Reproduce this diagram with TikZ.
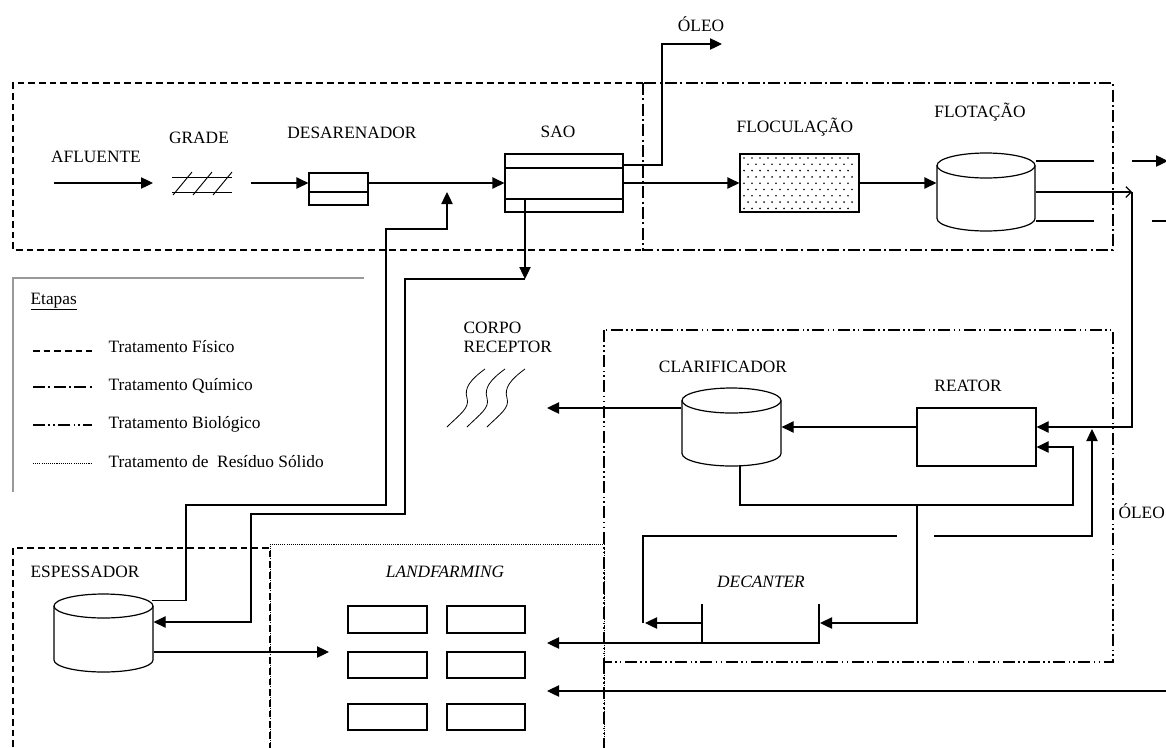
\documentclass[tikz,border=0pt]{standalone}
\usepackage{fontspec}
\setmainfont{Liberation Serif}
\usetikzlibrary{arrows.meta,fit,calc}
\newcommand{\cylshape}[5]{% x1 x2 ytop ybot ry
 \draw ({(#1+#2)/2},{#3+#5}) ellipse [x radius={(#2-#1)/2}, y radius=#5];
 \draw (#1,{#3+#5}) -- (#1,{#4-#5}) .. controls (#1,{#4-#5+0.5523*#5}) and ({(#1+#2)/2-0.5523*(#2-#1)/2},#4) .. ({(#1+#2)/2},#4) .. controls ({(#1+#2)/2+0.5523*(#2-#1)/2},#4) and (#2,{#4-#5+0.5523*#5}) .. (#2,{#4-#5}) -- (#2,{#3+#5});
}
\begin{document}
\begin{tikzpicture}[x=0.75pt,y=-0.75pt, line width=0.9pt,
  font=\fontsize{13}{15}\selectfont,
  arr/.style={-{Triangle[length=9pt,width=8.5pt]}},
  box/.style={draw, inner sep=0pt},
  area/.style={inner sep=0pt},
  lbl/.style={anchor=base, inner sep=0pt},
  phys/.style={line width=0.8pt, dash pattern=on 5pt off 3pt},
  chem/.style={line width=0.8pt, dash pattern=on 9pt off 2.5pt on 1.5pt off 2.5pt},
  bio/.style={line width=0.8pt, dash pattern=on 9pt off 2.5pt on 1.2pt off 2.5pt on 1.2pt off 2.5pt},
  solid waste/.style={line width=0.7pt, dash pattern=on 0.8pt off 0.8pt},
  legline/.style={draw=black!40, line width=1.1pt}]
\useasboundingbox (0,0) rectangle (1166,747);
\clip (0,0) rectangle (1166,747);

% ---------- stage boxes ----------
\draw[phys] (643,83) -- (13,83) -- (13,250) -- (643,250);
\draw[chem] (643,83) rectangle (1113,250);
\draw[bio] (604,330) rectangle (1113,662);
\draw[bio] (604,662) -- (604,760);
\draw[phys] (270,760) -- (270,548) -- (13,548) -- (13,760);
\draw[solid waste] (270,760) -- (270,544) -- (604,544) -- (604,760);

% ---------- legend ----------
\draw[legline] (364,278) -- (13,278) -- (13,492);
\node[anchor=base west, inner sep=0pt] (etapas) at (30,304) {\underline{Etapas}};
\draw[phys] (33,351) -- (92,351);
\draw[chem] (33,387) -- (92,387);
\draw[bio] (33,425) -- (92,425);
\draw[solid waste] (33,463) -- (92,463);
\node[anchor=base west, inner sep=0pt] (l1) at (108,352) {Tratamento Físico};
\node[anchor=base west, inner sep=0pt] (l2) at (108,390) {Tratamento Químico};
\node[anchor=base west, inner sep=0pt] (l3) at (108,428) {Tratamento Biológico};
\node[anchor=base west, inner sep=0pt] (l4) at (108,467) {Tratamento de\ \ Resíduo Sólido};

% ---------- labels ----------
\node[lbl] (tafl) at (96,162) {AFLUENTE};
\node[lbl] (tgrade) at (199,143) {GRADE};
\node[lbl] (tdes) at (352,138) {DESARENADOR};
\node[lbl] (tsao) at (558,137) {SAO};
\node[lbl] (toleo) at (701,31) {ÓLEO};
\node[lbl] (tfloc) at (795,132) {FLOCULAÇÃO};
\node[lbl] (tflot) at (980,117) {FLOTAÇÃO};
\node[anchor=base west, inner sep=0pt] (tcorpo) at (463,333) {CORPO};
\node[anchor=base west, inner sep=0pt] (trec) at (463,352) {RECEPTOR};
\node[lbl] (tclar) at (723,372) {CLARIFICADOR};
\node[lbl] (treat) at (968,391) {REATOR};
\node[anchor=base west, inner sep=0pt] (toleo2) at (1118,518) {ÓLEO};
\node[lbl] (tdec) at (761,587) {\itshape DECANTER};
\node[lbl] (tesp) at (85,577) {ESPESSADOR};
\node[lbl] (tland) at (445,577) {\itshape LANDFARMING};

% ---------- equipment ----------
% grade
\node[area, fit={(172,172) (232,195)}] (grade) {};
\draw[line width=0.7pt] (172,177) -- (232,177) (172,192) -- (232,192);
\draw[line width=0.7pt] (173,195) -- (192,172) (193,195) -- (212,172) (213,195) -- (232,172);
% desarenador
\node[box, fit={(309,173) (368,205)}] (desar) {};
\draw (309,192) -- (368,192);
% SAO
\node[box, fit={(505,154) (623,212)}] (sao) {};
\draw (505,168) -- (623,168) (505,199) -- (623,199);
% floculacao
\node[box, fit={(740,154) (859,212)}] (floc) {};
\foreach \j in {0,...,8}{
  \foreach \i in {0,...,13}{
    \fill ({744+8*\i+4*mod(\j,2)},{158+6.3*\j}) circle [radius=0.9];
  }
}
% flotacao
\node[area, fit={(937,153) (1035,231)}] (flot) {};
\cylshape{937}{1035}{153}{231}{12.5}
% reator
\node[box, fit={(917,408) (1036,466)}] (reator) {};
% clarificador
\node[area, fit={(682,388) (781,466)}] (clar) {};
\cylshape{682}{781}{388}{466}{12.5}
% espessador
\node[area, fit={(54,594) (153,672)}] (esp) {};
\cylshape{54}{153}{594}{672}{12}
% decanter
\coordinate (decL) at (702,643);
\coordinate (decR) at (819,643);
\draw (702,604) -- (decL) -- (decR) -- (819,604);
% landfarming cells
\node[box, fit={(348,606) (427,633)}] (lf1) {};
\node[box, fit={(447,606) (525,633)}] (lf2) {};
\node[box, fit={(348,652) (427,678)}] (lf3) {};
\node[box, fit={(447,652) (525,678)}] (lf4) {};
\node[box, fit={(348,704) (427,730)}] (lf5) {};
\node[box, fit={(447,704) (525,730)}] (lf6) {};
% corpo receptor waves
\foreach \d in {0,20,40}{
  \draw[line width=0.6pt] ({447+\d},427) .. controls ({460+\d},414) and ({470+\d},408) .. ({467+\d},398)
     .. controls ({464+\d},388) and ({470+\d},380) .. ({485+\d},369);
}
\coordinate (corpo) at (547,408);

% ---------- connectors ----------
\coordinate (afl) at (54,183);
\draw[arr] (afl) -- (153,183);
\draw[arr] (251,183) -- ($(desar.west)+(0,-6)$);
\draw[arr] ($(desar.east)+(0,-6)$) -- (sao.west);
\draw[arr] (sao.east) -- (floc.west);
\draw[arr] (floc.east) -- ($(flot.west)+(0,-9)$);
% oil from SAO
\draw[arr] ($(sao.east)+(0,-18)$) -| (662,44) -- (722,44);
% flotation outputs
\draw ($(flot.east)+(0,-31)$) -- (1094,161);
\draw[arr] (1132,161) -- (1168,161);
\draw ($(flot.east)+(0,29)$) -- (1094,221);
\draw (1152,221) -- (1168,221);
\coordinate (fj) at (1132,192);
\draw[-{Straight Barb[length=4pt,width=8pt]}] (flot.east) -- (fj);
\draw[arr] (fj) |- ($(reator.east)+(0,-10)$);
% reactor -> clarifier
\draw[arr] ($(reator.west)+(0,-10)$) -- (clar.east |- 0,427);
% clarifier -> corpo receptor
\draw[arr] (clar.west |- 0,408) -- (corpo);
% clarifier sludge recirculation
\coordinate (cb) at (740,466);
\draw[arr] (cb) |- (1073,505) |- ($(reator.east)+(0,10)$);
\draw[arr] (917,505) |- ($(decR)+(1,-20)$);
% oil return line up
\draw[arr] (934,536) -| (1092,429);
\draw (897,536) -| (643,623);
\draw[arr] ($(decL)+(0,-20)$) -- (645,623);
% decanter -> landfarming
\draw[arr] (decL) -- (547,643);
% bottom long line
\draw[arr] (1168,691) -- (547,691);
% espessador -> landfarming
\draw[arr] ($(esp.east)+(0,19)$) -- (329,652);
% espessador supernatant -> SAO
\draw[arr] ($(esp.north east)+(-2,7)$) -| (186,505) -| (386,229) -| (447,192);
% SAO sludge -> espessador
\coordinate (sb) at (525,279);
\draw[arr] (525,199) -- (sb);
\draw[arr] (sb) -| (405,514) -| (251,622) -- ($(esp.east)+(0,-11)$);
\end{tikzpicture}
\end{document}
